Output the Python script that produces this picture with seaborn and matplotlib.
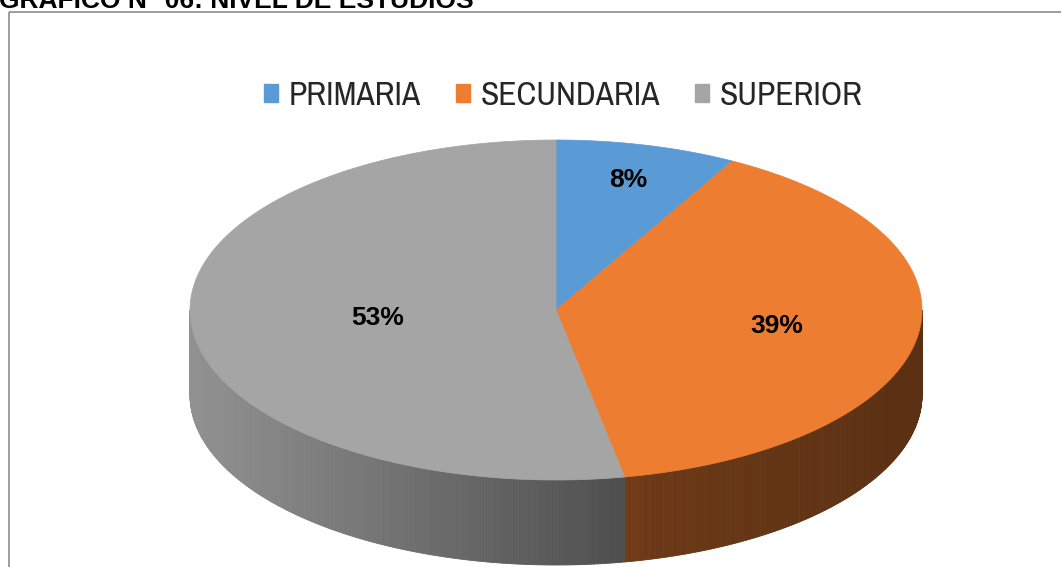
import numpy as np
import matplotlib.pyplot as plt
import seaborn as sns
from matplotlib import font_manager
from matplotlib.patches import Polygon, Rectangle, Patch

sns.set_theme(style="white")
plt.rcParams['font.family'] = ['Liberation Sans', 'DejaVu Sans']

# Datos
categorias = ["PRIMARIA", "SECUNDARIA", "SUPERIOR"]
porcentajes = [8, 39, 53]
colores = ["#5B9BD5", "#ED7D31", "#A5A5A5"]
titulo = "GRÁFICO N° 06: NIVEL DE ESTUDIOS"

# buscar una fuente estrecha si la hay
narrow = None
for f in font_manager.fontManager.ttflist:
    if ("Narrow" in f.name or "Condensed" in f.name) and "Mono" not in f.name:
        narrow = f.name
        break
if narrow is None:
    for f in font_manager.fontManager.ttflist:
        if f.stretch in ("condensed", "semi-condensed") and "Mono" not in f.name:
            narrow = f.name
            break
if narrow:
    leg_font = {"family": [narrow, "DejaVu Sans"], "stretch": "condensed"}
    leg_size = 24
else:
    leg_font = {"family": ["Liberation Sans", "DejaVu Sans"]}
    leg_size = 19.5

# geometria del pastel (en pixeles)
cx, cy = 556, 310
a, b = 366, 170
prof = 85
label_r = [0.79, 0.61, 0.49]

W, H = 1061, 567
fig = plt.figure(figsize=(W / 100, H / 100), dpi=100)
ax = fig.add_axes([0, 0, 1, 1])
ax.set_xlim(0, W)
ax.set_ylim(H, 0)
ax.axis("off")

# marco
ax.add_patch(Rectangle((9, 12), W + 20, H + 20, fill=False, edgecolor="#8c8c8c", lw=1.2))

vals = np.array(porcentajes, dtype=float)
frac = vals / vals.sum()
cum = np.concatenate([[0], np.cumsum(frac)])


def px(t):
    return cx + a * np.cos(t), cy - b * np.sin(t)


def shade(c):
    return np.interp(c, [-1, 0.26, 1], [0.88, 0.45, 0.38])


# caras laterales
for i, col in enumerate(colores):
    t0 = np.pi / 2 - 2 * np.pi * cum[i]
    t1 = np.pi / 2 - 2 * np.pi * cum[i + 1]
    ts = np.linspace(t0, t1, 400)
    base = np.array(sns.desaturate(col, 1.0))
    for ta, tb in zip(ts[:-1], ts[1:]):
        if np.sin(ta) > 0 and np.sin(tb) > 0:
            continue
        xa, ya = px(ta)
        xb, yb = px(tb)
        ya, yb = max(ya, cy), max(yb, cy)
        f = shade(np.cos((ta + tb) / 2))
        c = np.clip(base * f, 0, 1)
        ax.add_patch(Polygon([(xa, ya), (xb, yb), (xb, yb + prof), (xa, ya + prof)],
                             closed=True, facecolor=c, edgecolor=c, lw=0.6))

# cara superior
for i, col in enumerate(colores):
    t0 = np.pi / 2 - 2 * np.pi * cum[i]
    t1 = np.pi / 2 - 2 * np.pi * cum[i + 1]
    ts = np.linspace(t0, t1, 300)
    xs, ys = px(ts)
    pts = [(cx, cy)] + list(zip(xs, ys))
    ax.add_patch(Polygon(pts, closed=True, facecolor=col, edgecolor=col, lw=0.5))

# etiquetas
for i, p in enumerate(porcentajes):
    tm = np.pi / 2 - 2 * np.pi * (cum[i] + cum[i + 1]) / 2
    lx = cx + a * label_r[i] * np.cos(tm)
    ly = cy - b * label_r[i] * np.sin(tm)
    ax.text(lx, ly, f"{p}%", ha="center", va="center", fontsize=19,
            fontweight="bold", color="black")

# titulo (cortado arriba)
ax.text(-1, 8, titulo, ha="left", va="baseline", fontsize=19, fontweight="bold",
        color="black")

# leyenda
handles = [Patch(facecolor=c, edgecolor=c) for c in colores]
fig.legend(handles, categorias, loc="center", bbox_to_anchor=(563 / W, 1 - 96 / H),
           ncol=3, frameon=False, handlelength=0.42, handleheight=0.42,
           handletextpad=0.32, columnspacing=1.05,
           prop=font_manager.FontProperties(size=leg_size, **leg_font))

fig.savefig("out.png", dpi=100)
